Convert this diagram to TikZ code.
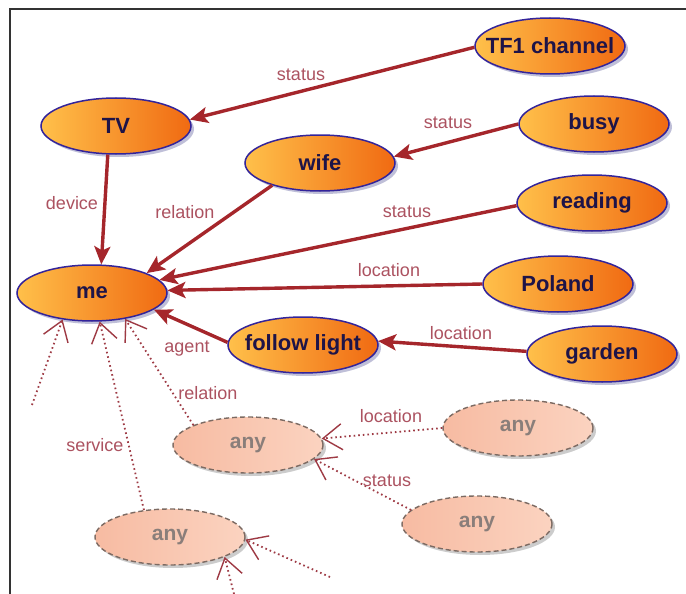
\documentclass[tikz,border=0pt]{standalone}
\usepackage{fontspec}
\setmainfont{Liberation Sans}
\usetikzlibrary{shapes.geometric,arrows.meta,shadows}

\definecolor{conceptL}{HTML}{FFC04A}
\definecolor{conceptR}{HTML}{F06A12}
\definecolor{conceptEdge}{HTML}{33249A}
\definecolor{conceptText}{HTML}{1E1448}
\definecolor{anyL}{HTML}{F7BBA2}
\definecolor{anyR}{HTML}{FBD3C0}
\definecolor{anyEdge}{HTML}{7C6A62}
\definecolor{anyText}{HTML}{8A7E7A}
\definecolor{relRed}{HTML}{A5262B}
\definecolor{optRed}{HTML}{9E3A44}
\definecolor{labelRed}{HTML}{AC5260}
\definecolor{frameGray}{HTML}{333333}

\newcommand\ctext[1]{\makebox[0pt]{#1}}

\begin{document}
\begin{tikzpicture}[x=1pt,y=-1pt,
  concept/.style={ellipse, minimum width=150pt, minimum height=56pt, inner sep=0pt,
    draw=conceptEdge, line width=1.5pt, left color=conceptL, right color=conceptR,
    drop shadow={shadow xshift=3pt, shadow yshift=-3pt, opacity=0.25, fill=black!60!blue},
    font=\fontsize{22}{24}\selectfont\bfseries, text=conceptText},
  anyconcept/.style={ellipse, minimum width=150pt, minimum height=56pt, inner sep=0pt,
    draw=anyEdge, line width=1.4pt, dash pattern=on 5pt off 3pt,
    left color=anyL, right color=anyR,
    drop shadow={shadow xshift=3pt, shadow yshift=-3pt, opacity=0.2, fill=black},
    font=\fontsize{21}{24}\selectfont\bfseries, text=anyText},
  relation/.style={draw=relRed, line width=3.4pt,
    -{Stealth[length=18pt,width=16pt,inset=4pt]}},
  optional/.style={draw=optRed, line width=1.8pt, dash pattern=on 1.6pt off 3pt,
    -{Straight Barb[length=19pt,width=26pt,line width=1.4pt]}},
  lbl/.style={font=\fontsize{18}{20}\selectfont, text=labelRed, inner sep=0pt}]

\useasboundingbox (0,0) rectangle (686,594);
\fill[white] (0,0) rectangle (686,594);
\draw[frameGray, line width=1.6pt] (10,594) -- (10,9) -- (686,9);

% concepts
\node[concept] (tf1) at (550,46) {\ctext{TF1 channel}};
\node[concept] (tv) at (116,126) {\ctext{TV}};
\node[concept] (wife) at (320,163) {\ctext{wife}};
\node[concept] (busy) at (594,124) {\ctext{busy}};
\node[concept] (reading) at (592,203) {\ctext{reading}};
\node[concept] (poland) at (558,284) {\ctext{Poland}};
\node[concept] (me) at (92,293) {\ctext{me}};
\node[concept] (follow) at (303,345) {\ctext{follow light}};
\node[concept] (garden) at (602,354) {\ctext{garden}};

% placeholder concepts
\node[anyconcept] (any1) at (248,445) {\ctext{any}};
\node[anyconcept] (any2) at (518,428) {\ctext{any}};
\node[anyconcept] (any3) at (477,524) {\ctext{any}};
\node[anyconcept] (any4) at (170,537) {\ctext{any}};

% dangling ends of open relations
\coordinate (free1) at (32,405);
\coordinate (free2) at (330,577);
\coordinate (free3) at (234,594);

% solid relations
\draw[relation] (tf1.181) -- (tv.5);
\draw[relation] (busy.180) -- (wife.5);
\draw[relation] (reading.182) -- (me.11);
\draw[relation] (poland.180) -- (me.2);
\draw[relation] (wife.205) -- (me.20);
\draw[relation] (tv.254) -- (me.72);
\draw[relation] (follow.178) -- (me.345);
\draw[relation] (garden.178) -- (follow.3);

% open relations
\draw[optional] (free1) -- (me.222);
\draw[optional] (any4.134) -- (me.285);
\draw[optional] (any1.160) -- (me.322);
\draw[optional] (any2.180) -- (any1.5);
\draw[optional] (any3.168) -- (any1.348);
\draw[optional] (free2) -- (any4.358);
\draw[optional] (free3) -- (any4.340);

% relation labels
\node[lbl] (l-tf1) at (301,75) {status};
\node[lbl] (l-busy) at (448,123) {status};
\node[lbl] (l-tv) at (72,203) {device};
\node[lbl] (l-wife) at (185,212) {relation};
\node[lbl] (l-reading) at (407,212) {status};
\node[lbl] (l-poland) at (389,270) {location};
\node[lbl] (l-follow) at (187,349) {agent};
\node[lbl] (l-garden) at (461,333) {location};
\node[lbl] (l-any1) at (208,393) {relation};
\node[lbl] (l-any4) at (95,445) {service};
\node[lbl] (l-any2) at (391,416) {location};
\node[lbl] (l-any3) at (387,481) {status};
\end{tikzpicture}
\end{document}
